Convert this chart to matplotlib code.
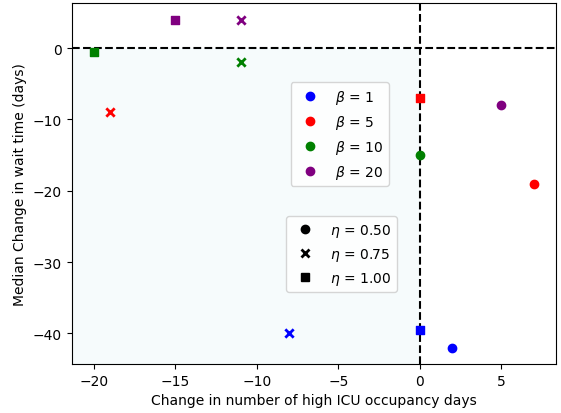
import matplotlib
matplotlib.use("Agg")
import matplotlib.pyplot as plt
from matplotlib.lines import Line2D

betas = [1, 5, 10, 20]
beta_colors = ["blue", "red", "green", "purple"]
etas = [0.50, 0.75, 1.00]
eta_markers = ["o", "x", "s"]

# change in high ICU occupancy days, per beta, per eta (0.50, 0.75, 1.00)
icu_change = [
    [2, -8, 0],
    [7, -19, 0],
    [0, -11, -20],
    [5, -11, -15],
]
# median change in wait time (days)
wait_change = [
    [-42, -40, -39.5],
    [-19, -9, -7],
    [-15, -2, -0.5],
    [-8, 4, 4],
]

fig, ax = plt.subplots(figsize=(5.61, 4.14), dpi=100)
fig.subplots_adjust(left=0.128, right=0.991, top=0.990, bottom=0.118)

for i, b in enumerate(betas):
    for j, e in enumerate(etas):
        lw = 2 if eta_markers[j] == "x" else None
        ax.scatter(icu_change[i][j], wait_change[i][j], color=beta_colors[i],
                   marker=eta_markers[j], linewidths=lw, zorder=3)

xl = ax.get_xlim()
yl = ax.get_ylim()
ax.axhline(0, color="black", linestyle="--", zorder=2)
ax.axvline(0, color="black", linestyle="--", zorder=2)
ax.fill_between([xl[0], 0], yl[0], 0, color="lightblue", alpha=0.1, lw=0, zorder=1)
ax.set_xlim(xl)
ax.set_ylim(yl)

ax.set_xlabel("Change in number of high ICU occupancy days")
ax.set_ylabel("Median Change in wait time (days)")

beta_handles = [Line2D([], [], marker="o", color=c, linestyle="None")
                for c in beta_colors]
leg1 = ax.legend(beta_handles, [r"$\beta$ = %d" % b for b in betas],
                 loc="upper left", bbox_to_anchor=(0.452, 0.781), borderaxespad=0)
ax.add_artist(leg1)

eta_handles = [Line2D([], [], marker=m, color="black", linestyle="None",
                      markeredgewidth=2 if m == "x" else 1)
               for m in eta_markers]
ax.legend(eta_handles, [r"$\eta$ = %.2f" % e for e in etas],
          loc="upper left", bbox_to_anchor=(0.442, 0.410), borderaxespad=0)

fig.savefig("out.png", dpi=100)
